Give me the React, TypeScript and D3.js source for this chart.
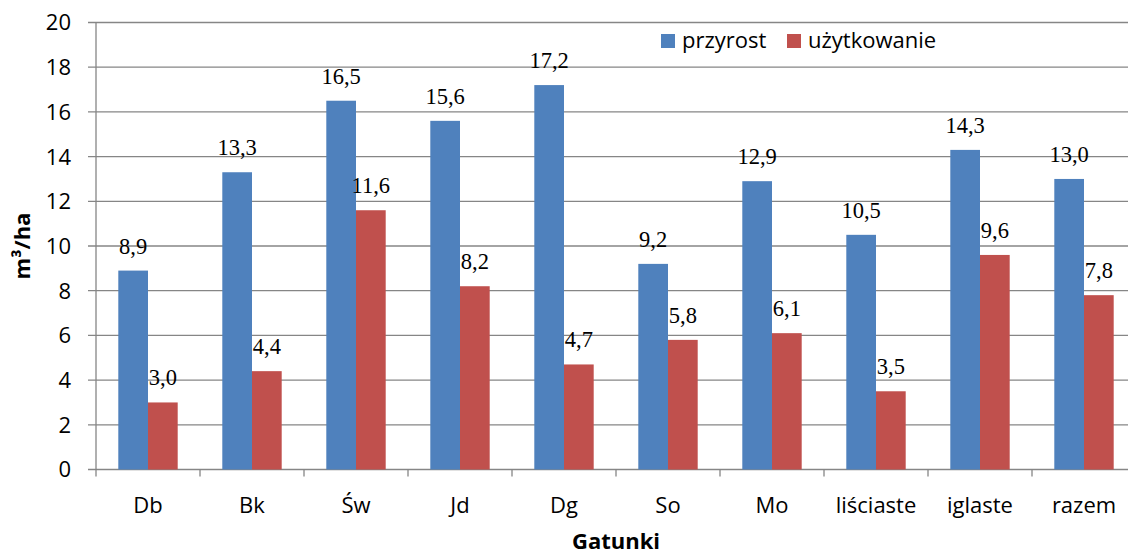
import React from "react";
import * as d3 from "d3";

const categories = ["Db", "Bk", "Św", "Jd", "Dg", "So", "Mo", "liściaste", "iglaste", "razem"];
const przyrost = [8.9, 13.3, 16.5, 15.6, 17.2, 9.2, 12.9, 10.5, 14.3, 13.0];
const uzytkowanie = [3.0, 4.4, 11.6, 8.2, 4.7, 5.8, 6.1, 3.5, 9.6, 7.8];
const yTicks = [0, 2, 4, 6, 8, 10, 12, 14, 16, 18, 20];
const seriesNames = ["przyrost", "użytkowanie"];
const colors = ["#4F81BD", "#C0504D"];

export default function App() {
  const W = 1128, H = 554;
  const left = 96, right = 1136, top = 22.5, bottom = 469.5;
  const x = d3.scaleBand<string>().domain(categories).range([left, right]).paddingInner(0).paddingOuter(0);
  const y = d3.scaleLinear().domain([0, 20]).range([bottom, top]);
  const bw = 29.7;
  const sans = "'Open Sans', sans-serif";
  const serif = "'Liberation Serif', 'Times New Roman', serif";
  const grid = "#868686";
  const fmt = (v: number) => v.toFixed(1).replace(".", ",");
  const series = [przyrost, uzytkowanie];
  const boundaries = d3.range(categories.length + 1).map((i) => left + i * x.bandwidth());

  return (
    <svg width={W} height={H} style={{ position: "absolute", left: 0, top: 0, background: "#fff" }}>
      <rect x={0} y={0} width={W} height={H} fill="#fff" />
      {yTicks.map((t) => (
        <g key={t}>
          <line x1={88} x2={W} y1={y(t)} y2={y(t)} stroke={grid} strokeWidth={1.3} />
          <text x={71} y={y(t)} dy="0.36em" textAnchor="end" fontFamily={sans} fontSize={22} fill="#000">
            {t}
          </text>
        </g>
      ))}
      <line x1={left} x2={left} y1={top} y2={bottom} stroke={grid} strokeWidth={1.3} />
      {boundaries.map((b, i) => (
        <line key={i} x1={b} x2={b} y1={bottom} y2={bottom + 7} stroke={grid} strokeWidth={1.3} />
      ))}
      {categories.map((c, i) => {
        const cx = (x(c) as number) + x.bandwidth() / 2;
        return (
          <g key={c}>
            {series.map((s, k) => {
              const bx = cx - bw + k * bw;
              return (
                <g key={k}>
                  <rect x={bx} y={y(s[i])} width={bw} height={bottom - y(s[i])} fill={colors[k]} />
                  <text x={bx + bw / 2} y={y(s[i]) - 17} textAnchor="middle" fontFamily={serif} fontSize={22.5} fill="#000">
                    {fmt(s[i])}
                  </text>
                </g>
              );
            })}
            <text x={cx} y={513} textAnchor="middle" fontFamily={sans} fontSize={22} fill="#000">
              {c}
            </text>
          </g>
        );
      })}
      <text x={(left + right) / 2} y={549} textAnchor="middle" fontFamily={sans} fontSize={22} fontWeight="bold" fill="#000">
        Gatunki
      </text>
      <text transform={`translate(30, ${(top + bottom) / 2}) rotate(-90)`} textAnchor="middle" fontFamily={sans} fontSize={22} fontWeight="bold" fill="#000">
        m³/ha
      </text>
      {seriesNames.map((n, k) => {
        const lx = [661, 787][k];
        return (
          <g key={n}>
            <rect x={lx} y={34} width={14} height={14} fill={colors[k]} />
            <text x={lx + 21} y={48} fontFamily={sans} fontSize={22} fill="#000">
              {n}
            </text>
          </g>
        );
      })}
    </svg>
  );
}
